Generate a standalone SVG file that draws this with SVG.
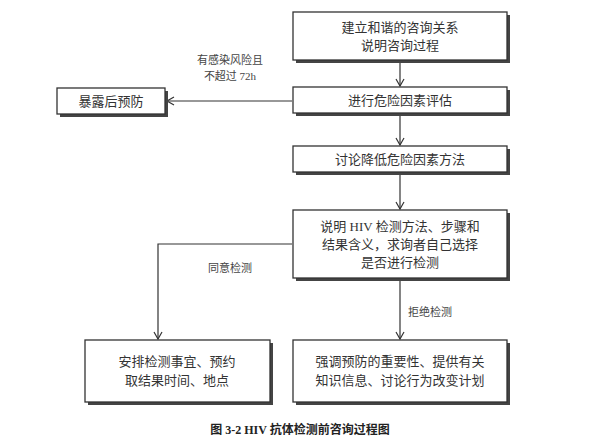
<svg xmlns="http://www.w3.org/2000/svg" width="600" height="448" viewBox="0 0 600 448">
<style>
.b{fill:#fff;stroke:#333;stroke-width:1.3}
.s{fill:#444}
.t{font-family:"Liberation Serif","Noto Sans CJK SC",serif;font-size:13px;fill:#333;text-anchor:middle}
.l{font-family:"Liberation Serif","Noto Sans CJK SC",serif;font-size:11px;fill:#444;text-anchor:middle}
.c{fill:none;stroke:#333;stroke-width:1.2}
</style>
<defs><marker id="a" markerWidth="10" markerHeight="10" refX="8" refY="5" orient="auto" markerUnits="userSpaceOnUse"><path d="M1,1 L8,5 L1,9" fill="none" stroke="#333" stroke-width="1.2"/></marker></defs>
<rect width="600" height="448" fill="#fff"/>
<g id="connectors">
<line class="c" x1="400" y1="61" x2="400" y2="86" marker-end="url(#a)"/>
<line class="c" x1="400" y1="114" x2="400" y2="145" marker-end="url(#a)"/>
<line class="c" x1="400" y1="173" x2="400" y2="209" marker-end="url(#a)"/>
<line class="c" x1="400" y1="279" x2="400" y2="339" marker-end="url(#a)"/>
<line class="c" x1="292" y1="101" x2="167" y2="101" marker-end="url(#a)"/>
<polyline class="c" points="292,244 158,244 158,339" marker-end="url(#a)"/>
<text class="l" x="230" y="64">有感染风险且</text>
<text class="l" x="230" y="80">不超过 72h</text>
<text class="l" x="230" y="272">同意检测</text>
<text class="l" x="430" y="316">拒绝检测</text>
</g>
<g id="n1"><rect class="s" x="296" y="15" width="214" height="48"/><rect class="b" x="293" y="12" width="214" height="48"/><text class="t" x="400" y="32">建立和谐的咨询关系</text><text class="t" x="400" y="50">说明咨询过程</text></g>
<g id="n2"><rect class="s" x="296" y="90" width="214" height="26"/><rect class="b" x="293" y="87" width="214" height="26"/><text class="t" x="400" y="105">进行危险因素评估</text></g>
<g id="n3"><rect class="s" x="296" y="149" width="214" height="26"/><rect class="b" x="293" y="146" width="214" height="26"/><text class="t" x="400" y="164">讨论降低危险因素方法</text></g>
<g id="n4"><rect class="s" x="296" y="213" width="214" height="68"/><rect class="b" x="293" y="210" width="214" height="68"/><text class="t" x="400" y="231">说明 HIV 检测方法、步骤和</text><text class="t" x="400" y="249">结果含义，求询者自己选择</text><text class="t" x="400" y="267">是否进行检测</text></g>
<g id="n5"><rect class="s" x="296" y="343" width="214" height="62"/><rect class="b" x="293" y="340" width="214" height="62"/><text class="t" x="400" y="366">强调预防的重要性、提供有关</text><text class="t" x="400" y="385">知识信息、讨论行为改变计划</text></g>
<g id="n6"><rect class="s" x="88" y="343" width="185" height="62"/><rect class="b" x="85" y="340" width="185" height="62"/><text class="t" x="177" y="366">安排检测事宜、预约</text><text class="t" x="177" y="385">取结果时间、地点</text></g>
<g id="n7"><rect class="s" x="60" y="91" width="108" height="26"/><rect class="b" x="57" y="88" width="108" height="26"/><text class="t" x="111" y="106">暴露后预防</text></g>
<text x="300" y="434" style="font-family:'Liberation Serif','Noto Sans CJK SC',serif;font-size:12px;font-weight:bold;fill:#222;text-anchor:middle">图 3-2 HIV 抗体检测前咨询过程图</text>
</svg>
